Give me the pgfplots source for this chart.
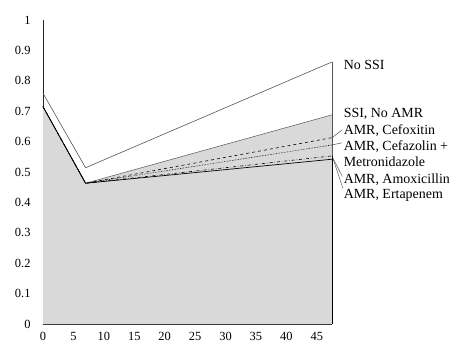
\documentclass[border=0pt]{standalone}
\usepackage{fontspec}
\setmainfont{Liberation Serif}
\usepackage{pgfplots}
\pgfplotsset{compat=1.18}
\definecolor{fillgray}{HTML}{D9D9D9}
\definecolor{linegray}{HTML}{555555}
\begin{document}
\begin{tikzpicture}
\useasboundingbox (-43bp,-23bp) rectangle (406bp,324bp);
\begin{axis}[
  at={(0,0)}, anchor=south west,
  scale only axis, width=289bp, height=304bp,
  xmin=0, xmax=47.5, ymin=0, ymax=1,
  clip=false,
  axis x line*=bottom, axis y line*=left,
  axis line style={-, black!85, line width=0.9pt},
  xtick={0,5,10,15,20,25,30,35,40,45},
  ytick={0,0.1,0.2,0.3,0.4,0.5,0.6,0.7,0.8,0.9,1},
  yticklabels={0,0.1,0.2,0.3,0.4,0.5,0.6,0.7,0.8,0.9,1},
  major tick length=0,
  /pgf/number format/assume math mode=true,
  tick label style={font=\fontsize{12.5}{14}\selectfont},
  yticklabel style={xshift=-9bp},
  xticklabel style={yshift=-5bp},
]
\addplot[fill=fillgray, draw=none] coordinates {(0,0.715) (7,0.463) (47.5,0.688)} \closedcycle;
\addplot[linegray, line width=0.5pt] coordinates {(0,0.715) (7,0.463) (47.5,0.688)};
\addplot[linegray, line width=0.6pt] coordinates {(0,0.759) (7,0.514) (47.5,0.862)};
\addplot[black, dashed, line width=0.6pt] coordinates {(0,0.715) (7,0.463) (47.5,0.613)};
\addplot[black, densely dotted, line width=0.6pt] coordinates {(0,0.715) (7,0.463) (47.5,0.589)};
\addplot[black, dash dot, line width=0.6pt] coordinates {(0,0.715) (7,0.463) (47.5,0.553)};
\addplot[black, line width=0.7pt] coordinates {(0,0.715) (7,0.463) (47.5,0.542)};
\draw[linegray, line width=0.6pt] (axis cs:47.5,0) -- (axis cs:47.5,0.862);
\draw[black, line width=1pt] (axis cs:47.5,0) -- (axis cs:47.5,0.553);
% leaders
\draw[linegray, line width=0.5pt] (axis cs:47.5,0.613) -- (axis cs:49.15,0.638);
\draw[linegray, line width=0.5pt] (axis cs:47.5,0.589) -- (axis cs:49.15,0.596);
\draw[linegray, line width=0.5pt] (axis cs:47.6,0.548) -- (axis cs:49.2,0.485);
\draw[linegray, line width=0.5pt] (axis cs:47.7,0.542) -- (axis cs:49.3,0.446);
% labels
\begin{scope}[every node/.style={anchor=base west, inner sep=0pt, font=\fontsize{14}{16}\selectfont}]
\node at (axis cs:49.4,0.838) {No SSI};
\node at (axis cs:49.4,0.680) {SSI, No AMR};
\node at (axis cs:49.4,0.624) {AMR, Cefoxitin};
\node at (axis cs:49.4,0.570) {AMR, Cefazolin +};
\node at (axis cs:49.4,0.517) {Metronidazole};
\node at (axis cs:49.4,0.463) {AMR, Amoxicillin};
\node at (axis cs:49.4,0.412) {AMR, Ertapenem};
\end{scope}
\end{axis}
\end{tikzpicture}
\end{document}
